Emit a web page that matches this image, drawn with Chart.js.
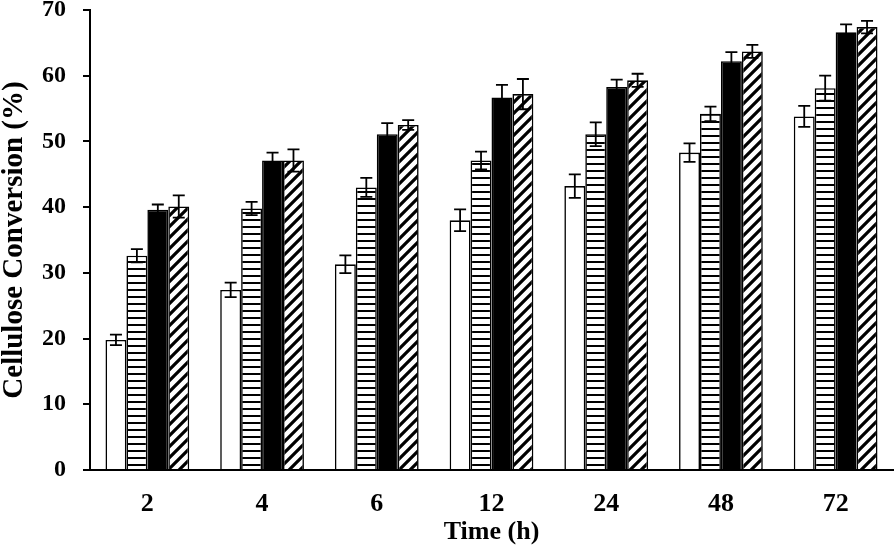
<!DOCTYPE html>
<html>
<head>
<meta charset="utf-8">
<script src="https://cdn.jsdelivr.net/npm/chart.js@4/dist/chart.umd.min.js"></script>
<style>
html,body{margin:0;padding:0;background:#fff;}
#wrap{width:896px;height:548px;}
</style>
</head>
<body>
<div id="wrap"><canvas id="c" width="896" height="548"></canvas></div>
<script>
const categories = ['2', '4', '6', '12', '24', '48', '72'];
const seriesA = [19.8, 27.4, 31.3, 38.0, 43.2, 48.3, 53.8];
const seriesB = [32.6, 39.8, 43.0, 47.1, 51.1, 54.2, 58.1];
const seriesC = [39.6, 47.1, 51.1, 56.7, 58.3, 62.2, 66.6];
const seriesD = [40.1, 47.1, 52.5, 57.2, 59.3, 63.7, 67.4];
const errA = [0.8, 1.1, 1.35, 1.65, 1.8, 1.4, 1.6];
const errB = [1.0, 1.0, 1.45, 1.35, 1.8, 1.1, 1.9];
const errC = [0.8, 1.2, 1.7, 1.9, 1.1, 1.4, 1.2];
const errD = [1.7, 1.7, 0.75, 2.3, 1.0, 1.0, 0.95];
const yTicks = [0, 10, 20, 30, 40, 50, 60, 70];

function horizPattern() {
  const t = document.createElement('canvas');
  t.width = 8; t.height = 7;
  const g = t.getContext('2d');
  g.fillStyle = '#fff'; g.fillRect(0, 0, 8, 7);
  g.fillStyle = '#000'; g.fillRect(0, 2, 8, 2);
  return g.createPattern(t, 'repeat');
}
function diagPattern() {
  const s = 11;
  const t = document.createElement('canvas');
  t.width = s; t.height = s;
  const g = t.getContext('2d');
  g.fillStyle = '#fff'; g.fillRect(0, 0, s, s);
  g.strokeStyle = '#000'; g.lineWidth = 3.2; g.lineCap = 'square';
  g.beginPath();
  g.moveTo(-2, s + 2); g.lineTo(s + 2, -2);
  g.moveTo(-2, 2); g.lineTo(2, -2);
  g.moveTo(s - 2, s + 2); g.lineTo(s + 2, s - 2);
  g.stroke();
  return g.createPattern(t, 'repeat');
}

const errs = [errA, errB, errC, errD];

const errorBars = {
  id: 'errorBars',
  afterDatasetsDraw(chart) {
    const ctx = chart.ctx;
    const y = chart.scales.y;
    ctx.save();
    ctx.strokeStyle = '#000';
    ctx.lineWidth = 1.8;
    chart.data.datasets.forEach((ds, di) => {
      const meta = chart.getDatasetMeta(di);
      meta.data.forEach((bar, i) => {
        const v = ds.data[i], e = errs[di][i];
        const yt = y.getPixelForValue(v + e);
        const yb = y.getPixelForValue(v - e);
        const x = bar.x, hw = 6;
        ctx.beginPath();
        ctx.moveTo(x, yt); ctx.lineTo(x, yb);
        ctx.moveTo(x - hw, yt); ctx.lineTo(x + hw, yt);
        ctx.moveTo(x - hw, yb); ctx.lineTo(x + hw, yb);
        ctx.stroke();
      });
    });
    ctx.restore();
  }
};

const fontFam = "'Liberation Serif', 'Times New Roman', serif";

new Chart(document.getElementById('c'), {
  type: 'bar',
  data: {
    labels: categories,
    datasets: [
      { data: seriesA, backgroundColor: '#fff' },
      { data: seriesB, backgroundColor: horizPattern() },
      { data: seriesC, backgroundColor: '#000' },
      { data: seriesD, backgroundColor: diagPattern() }
    ].map(d => Object.assign(d, {
      borderColor: '#000', borderWidth: 1.6,
      categoryPercentage: 0.73, barPercentage: 1.0
    }))
  },
  options: {
    responsive: false,
    animation: false,
    devicePixelRatio: 1,
    layout: { padding: { top: 10, right: 3, bottom: 0, left: 0 } },
    plugins: { legend: { display: false }, tooltip: { enabled: false } },
    scales: {
      x: {
        grid: { display: false, drawTicks: false },
        border: { display: true, color: '#000', width: 2 },
        ticks: { color: '#000', padding: 19, font: { family: fontFam, size: 26, weight: 'bold' } },
        title: { display: true, text: 'Time (h)', color: '#000', padding: { top: 0, bottom: 0 },
                 font: { family: fontFam, size: 26, weight: 'bold', lineHeight: 1.2 } },
        afterFit(s) { s.height = 78; s.paddingLeft = 0; s.paddingRight = 0; }
      },
      y: {
        min: 0, max: 70,
        afterBuildTicks(s) { s.ticks = yTicks.map(v => ({ value: v })); },
        grid: { display: true, drawOnChartArea: false, drawTicks: true, tickLength: 7, color: '#000', lineWidth: 2 },
        border: { display: true, color: '#000', width: 2 },
        ticks: { color: '#000', padding: 17, font: { family: fontFam, size: 24, weight: 'bold', lineHeight: 1.0 } },
        title: { display: true, text: 'Cellulose Conversion (%)', color: '#000', padding: { top: 0, bottom: 0 },
                 font: { family: fontFam, size: 29, weight: 'bold', lineHeight: 1.0 } },
        afterFit(s) { s.width = 90; s.paddingTop = 0; s.paddingBottom = 0; }
      }
    }
  },
  plugins: [errorBars]
});
</script>
</body>
</html>
